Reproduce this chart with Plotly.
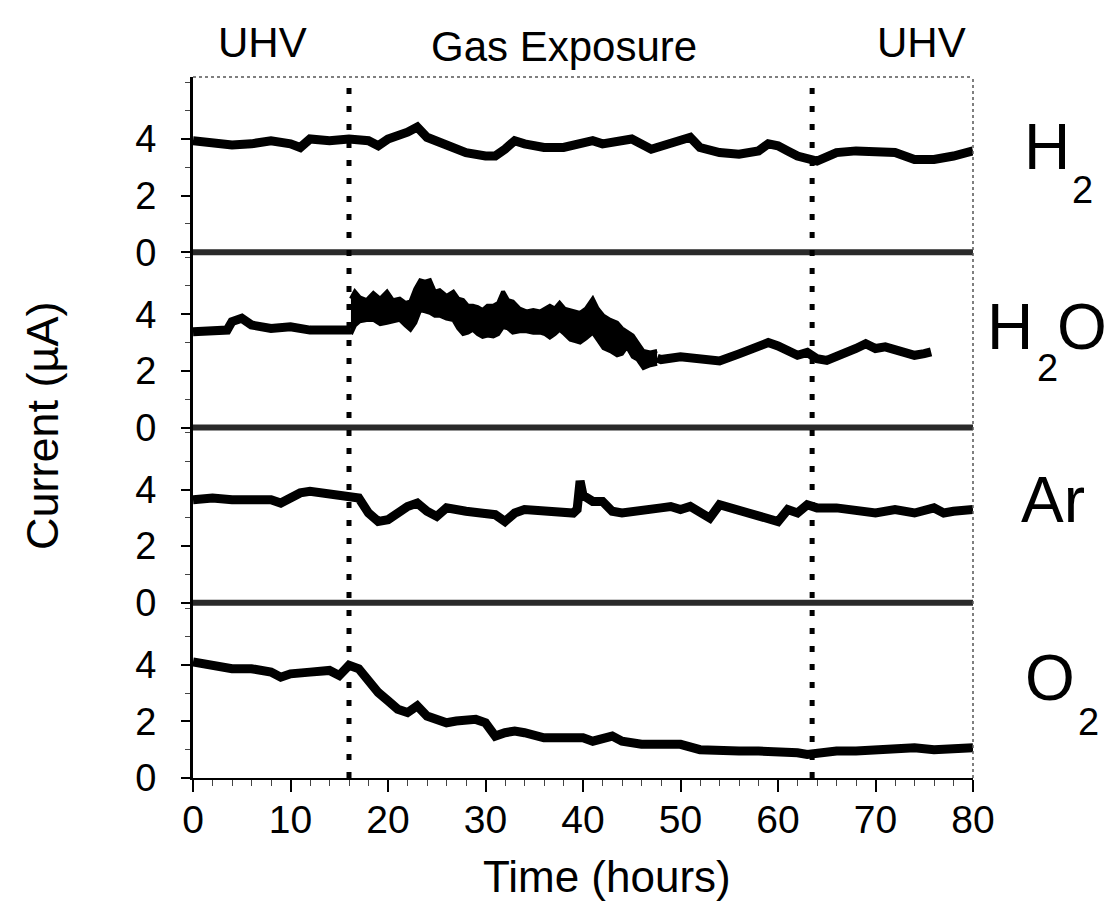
import plotly.graph_objects as go

# ---------------- data ----------------
x_ticks = [0, 10, 20, 30, 40, 50, 60, 70, 80]
y_ticks = [0, 2, 4]
boundary_times = [16.0, 63.5]

h2_t = [0, 2, 4, 6, 8, 10, 11, 12, 14, 16, 18, 19, 20, 22, 23, 24, 26, 28, 30, 31, 32, 33, 34, 36, 38,
        40, 41, 42, 44, 45, 47, 48, 50, 51, 52, 54, 56, 58, 59, 60, 61, 62, 64, 65, 66, 68, 70, 72, 74,
        76, 78, 80]
h2_v = [3.94, 3.88, 3.79, 3.83, 3.94, 3.83, 3.70, 4.00, 3.94, 4.00, 3.94, 3.76, 4.00, 4.24, 4.42, 4.06,
        3.76, 3.52, 3.40, 3.40, 3.64, 3.94, 3.83, 3.70, 3.70, 3.88, 3.94, 3.83, 3.94, 4.00, 3.64, 3.76,
        4.00, 4.06, 3.70, 3.52, 3.46, 3.58, 3.83, 3.76, 3.58, 3.40, 3.22, 3.40, 3.52, 3.58, 3.58, 3.52,
        3.28, 3.28, 3.40, 3.58]

# H2O: calm UHV part, noisy exposure band (upper / lower edges), calmer tail
h2o_pre_t = [0, 2, 3.5, 4, 5, 6, 8, 10, 12, 14, 16.2]
h2o_pre_v = [3.38, 3.44, 3.44, 3.74, 3.86, 3.62, 3.50, 3.56, 3.44, 3.44, 3.44]

h2o_band_t = [16.2, 16.6, 17.1, 17.8, 18.5, 19.2, 19.9, 20.5, 21.2, 21.8, 22.3, 22.8, 23.3, 23.8, 24.3,
              24.8, 25.3, 26.0, 26.7, 27.2, 27.7, 28.2, 28.7, 29.2, 29.7, 30.2, 30.8, 31.3, 31.8, 32.3,
              32.8, 33.5, 34.2, 34.9, 35.6, 36.1, 36.6, 37.1, 37.6, 38.1, 38.7, 39.2, 39.7, 40.3, 41.0,
              41.5, 42.1, 42.8, 43.5, 44.0, 44.5, 45.1, 45.6, 46.2, 46.9, 47.6]
h2o_upper = [4.55, 4.80, 4.60, 4.50, 4.75, 4.55, 4.80, 4.50, 4.55, 4.40, 4.45, 4.90, 5.20, 5.15, 5.20,
             4.80, 4.85, 4.65, 4.80, 4.55, 4.50, 4.30, 4.30, 4.25, 4.15, 4.30, 4.30, 4.40, 4.80, 4.50,
             4.45, 4.20, 4.10, 4.15, 4.10, 4.20, 4.30, 4.20, 4.40, 4.20, 4.15, 4.10, 4.05, 4.20, 4.55,
             4.20, 3.95, 3.80, 3.70, 3.50, 3.40, 3.25, 3.00, 2.70, 2.65, 2.70]
h2o_lower = [3.30, 3.60, 3.75, 3.80, 3.80, 3.65, 3.70, 3.75, 3.80, 3.60, 3.45, 3.70, 4.15, 4.10, 4.05,
             3.95, 3.95, 3.85, 3.80, 3.50, 3.30, 3.35, 3.45, 3.30, 3.20, 3.25, 3.22, 3.30, 3.55, 3.50,
             3.35, 3.40, 3.40, 3.35, 3.35, 3.30, 3.18, 3.30, 3.45, 3.30, 3.10, 3.05, 3.00, 3.15, 3.35,
             3.10, 2.80, 2.70, 2.55, 2.60, 2.85, 2.50, 2.40, 2.10, 2.20, 2.25]

h2o_post_t = [47.6, 48, 50, 52, 54, 56, 57, 58, 59, 60, 61, 62, 63, 64, 65, 66, 67, 68, 69, 70, 71, 72,
              73, 74, 75, 75.7]
h2o_post_v = [2.45, 2.40, 2.50, 2.45, 2.35, 2.60, 2.75, 2.90, 3.00, 2.88, 2.75, 2.55, 2.65, 2.43, 2.37,
              2.49, 2.67, 2.79, 2.96, 2.79, 2.85, 2.73, 2.67, 2.55, 2.61, 2.67]

ar_t = [0, 2, 4, 6, 8, 9, 10, 11, 12, 13, 14, 15, 16, 17, 18, 19, 20, 21, 22, 23, 24, 25, 26, 28, 30,
        31, 32, 33, 34, 36, 38, 39, 39.4, 39.7, 40.0, 40.5, 41, 42, 43, 44, 46, 48, 49, 50, 51, 52, 53,
        54, 56, 58, 59, 60, 61, 62, 63, 64, 66, 68, 70, 72, 74, 76, 77, 78, 80]
ar_v = [3.64, 3.70, 3.64, 3.64, 3.64, 3.52, 3.70, 3.88, 3.94, 3.88, 3.82, 3.82, 3.76, 3.70, 3.17, 2.87,
        2.93, 3.17, 3.40, 3.52, 3.23, 3.05, 3.35, 3.23, 3.17, 3.11, 2.87, 3.17, 3.29, 3.23, 3.23, 3.17,
        3.30, 4.30, 3.80, 3.65, 3.58, 3.58, 3.23, 3.17, 3.23, 3.35, 3.40, 3.29, 3.40, 3.17, 2.99, 3.46,
        3.29, 3.11, 2.99, 2.87, 3.29, 3.17, 3.46, 3.35, 3.35, 3.29, 3.17, 3.29, 3.17, 3.35, 3.17, 3.23,
        3.29]

o2_t = [0, 1, 2, 4, 6, 8, 9, 10, 12, 14, 15, 16, 17, 18, 19, 20, 21, 22, 23, 24, 25, 26, 27, 28, 29,
        30, 31, 32, 33, 34, 36, 38, 40, 41, 42, 43, 44, 46, 48, 50, 52, 54, 56, 58, 60, 62, 63, 64, 66,
        68, 70, 72, 74, 76, 78, 80]
o2_v = [4.10, 4.04, 3.92, 3.86, 3.86, 3.74, 3.56, 3.68, 3.74, 3.80, 3.62, 3.98, 3.86, 3.38, 3.02, 2.73,
        2.43, 2.31, 2.55, 2.19, 2.07, 1.95, 2.01, 2.07, 2.07, 1.95, 1.48, 1.60, 1.66, 1.60, 1.42, 1.42,
        1.42, 1.30, 1.42, 1.48, 1.30, 1.19, 1.19, 1.19, 1.00, 0.95, 0.95, 0.95, 0.95, 0.89, 0.83, 0.89,
        0.95, 0.95, 1.00, 1.00, 1.07, 1.00, 1.02, 1.07]

# ---------------- figure ----------------
FONT = "Liberation Sans, Arial, Helvetica, sans-serif"
L, R, T, B = 193, 136, 77, 124
W, H = 1109, 902
PW, PH = W - L - R, H - T - B

def px(xpix):
    return (xpix - L) / PW

def py(ypix):
    return (H - B - ypix) / PH

fig = go.Figure()

def line_trace(t, v, ya, w=9):
    return go.Scatter(x=t, y=v, mode="lines", yaxis=ya, xaxis="x",
                      line=dict(color="black", width=w), showlegend=False, hoverinfo="skip")

fig.add_trace(line_trace(h2_t, h2_v, "y"))
fig.add_trace(line_trace(h2o_pre_t, h2o_pre_v, "y2"))
fig.add_trace(go.Scatter(x=h2o_band_t, y=h2o_upper, mode="lines", yaxis="y2", xaxis="x",
                         line=dict(color="black", width=4), showlegend=False, hoverinfo="skip"))
fig.add_trace(go.Scatter(x=h2o_band_t, y=h2o_lower, mode="lines", yaxis="y2", xaxis="x",
                         line=dict(color="black", width=4), fill="tonexty", fillcolor="black",
                         showlegend=False, hoverinfo="skip"))
fig.add_trace(line_trace(h2o_post_t, h2o_post_v, "y2"))
fig.add_trace(line_trace(ar_t, ar_v, "y3"))
fig.add_trace(line_trace(o2_t, o2_v, "y4"))

domains = [[0.75, 1.0], [0.5, 0.75], [0.25, 0.5], [0.0, 0.25]]
yrange = [0, 6.19]
yax_common = dict(range=yrange, tickvals=y_ticks, ticktext=[str(v) for v in y_ticks],
                  ticks="outside", ticklen=9, tickwidth=2, tickcolor="black",
                  showline=True, linecolor="black", linewidth=3,
                  showgrid=False, zeroline=False, anchor="x",
                  tickfont=dict(family=FONT, size=38, color="black"),
                  ticklabelstandoff=17,
                  minor=dict(dtick=1, ticks="outside", ticklen=5, tickcolor="#444", tickwidth=1))

layout_axes = {}
names = ["yaxis", "yaxis2", "yaxis3", "yaxis4"]
for n, d in zip(names, domains):
    layout_axes[n] = dict(domain=d, **yax_common)

fig.update_layout(
    width=W, height=H,
    margin=dict(l=L, r=R, t=T, b=B),
    paper_bgcolor="white", plot_bgcolor="white",
    xaxis=dict(range=[0, 80], tickvals=x_ticks, ticks="outside", ticklen=12, tickwidth=2,
               tickcolor="black", showline=True, linecolor="black", linewidth=2,
               showgrid=False, zeroline=False, anchor="y4",
               tickfont=dict(family=FONT, size=39, color="black"),
               ticklabelstandoff=-6,
               minor=dict(dtick=2, ticks="outside", ticklen=6, tickcolor="#444", tickwidth=1)),
    **layout_axes,
)

shapes = []
# thick zero lines between panels
for yp in [0.25, 0.5, 0.75]:
    shapes.append(dict(type="line", xref="paper", yref="paper", x0=0, x1=1, y0=yp, y1=yp,
                       line=dict(color="#2a2a2a", width=6)))
# dotted top and right borders
shapes.append(dict(type="line", xref="paper", yref="paper", x0=0, x1=1, y0=1, y1=1,
                   line=dict(color="#555", width=1.5, dash="dot")))
shapes.append(dict(type="line", xref="paper", yref="paper", x0=1, x1=1, y0=0, y1=1,
                   line=dict(color="#555", width=1.5, dash="dot")))
# dotted boundaries between UHV and gas exposure
for bt in boundary_times:
    shapes.append(dict(type="line", xref="x", yref="paper", x0=bt, x1=bt, y0=0, y1=1,
                       line=dict(color="black", width=5, dash="6px,12px")))
fig.update_layout(shapes=shapes)

def ann(text, xp, yp, size, angle=0):
    return dict(text=text, x=px(xp), y=py(yp), xref="paper", yref="paper",
                xanchor="center", yanchor="middle", showarrow=False, textangle=angle,
                font=dict(family=FONT, size=size, color="black"))

annotations = [
    ann("UHV", 262, 42, 42),
    ann("Gas Exposure", 564, 46, 42),
    ann("UHV", 921, 42, 42),
    ann("Current (µA)", 42, 426, 45, angle=-90),
    ann("Time (hours)", 607, 876, 44),
    ann("H", 1047, 147, 64), ann("2", 1082, 190, 38),
    ann("H", 1010, 327, 64), ann("2", 1047, 368, 38), ann("O", 1082, 327, 64),
    ann("Ar", 1053, 500, 64),
    ann("O", 1050, 678, 64), ann("2", 1088, 722, 38),
]
fig.update_layout(annotations=annotations)

fig.write_html("out.html")
